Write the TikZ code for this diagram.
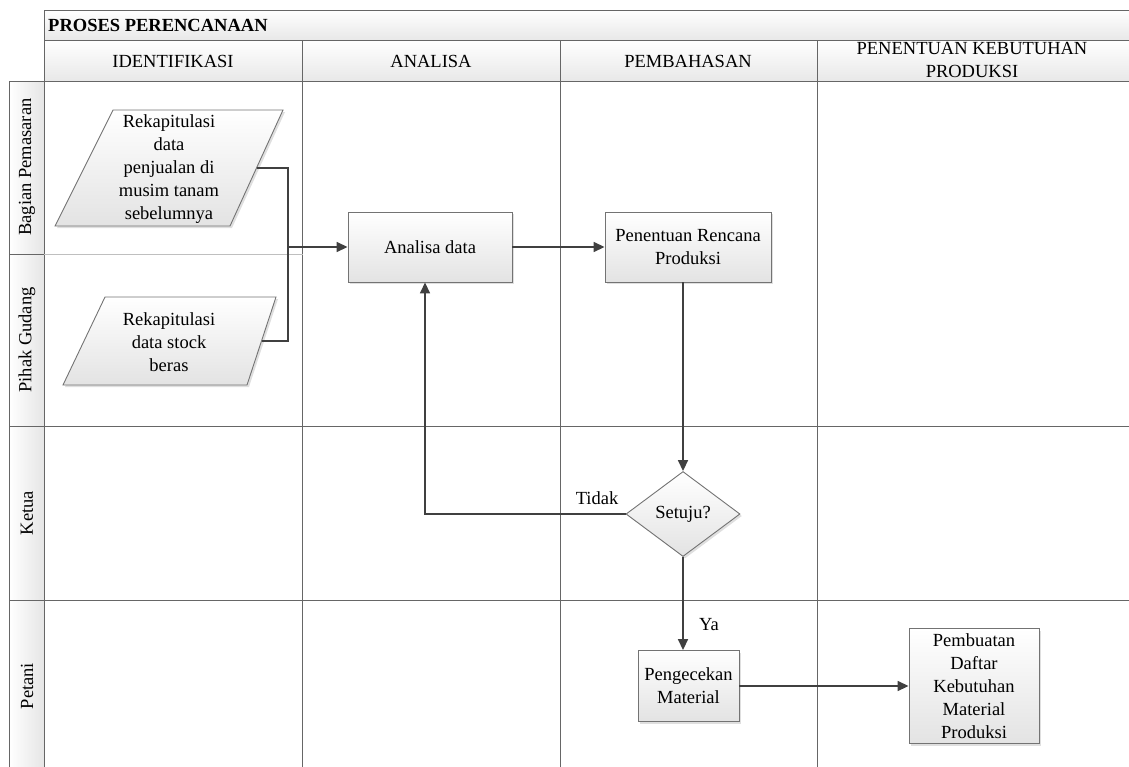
\documentclass[tikz,border=0pt]{standalone}
\usepackage{fontspec}
\setmainfont{Liberation Serif}
\usetikzlibrary{arrows.meta,shadows,shapes.geometric}
\begin{document}
\begin{tikzpicture}[x=1pt,y=-1pt,
  frame/.style={draw=black!60, line width=1pt},
  hdr/.style={frame, top color=white, bottom color=black!9},
  lanebox/.style={frame, left color=white, right color=black!10},
  proc/.style={draw=black!55, line width=0.9pt, top color=white, bottom color=black!11,
    drop shadow={shadow xshift=2pt, shadow yshift=-2pt, opacity=0.25}},
  conn/.style={draw=black!75, line width=1.6pt},
  arr/.style={conn, -{Triangle[length=11pt,width=10pt]}},
  txt/.style={font=\fontsize{18.5}{23}\selectfont, align=center, inner sep=0pt},
  lbl/.style={font=\fontsize{18.5}{23}\selectfont, inner sep=0pt},
]
\useasboundingbox (0,0) rectangle (1129,766);
% title and header
\path[hdr] (44,10) rectangle (1140,40);
\path[hdr] (44,40) rectangle (302,81);
\path[hdr] (302,40) rectangle (560,81);
\path[hdr] (560,40) rectangle (817,81);
\path[hdr] (817,40) rectangle (1140,81);
\node[anchor=west, font=\bfseries\fontsize{18.5}{22}\selectfont, inner sep=0pt] (title) at (48,25) {PROSES PERENCANAAN};
\node[txt] (h1) at (173,61) {IDENTIFIKASI};
\node[txt] (h2) at (431,61) {ANALISA};
\node[txt] (h3) at (688,61) {PEMBAHASAN};
\node[txt] (h4) at (972,60) {PENENTUAN KEBUTUHAN\\PRODUKSI};
% lane labels
\path[lanebox] (9,81) rectangle (44,254);
\path[lanebox] (9,254) rectangle (44,426);
\path[lanebox] (9,426) rectangle (44,600);
\path[lanebox] (9,600) rectangle (44,780);
\node[lbl, rotate=90] (l1) at (27,167) {Bagian Pemasaran};
\node[lbl, rotate=90] (l2) at (27,340) {Pihak Gudang};
\node[lbl, rotate=90] (l3) at (27,513) {Ketua};
\node[lbl, rotate=90] (l4) at (27,686) {Petani};
% grid
\draw[frame] (44,10) -- (44,780);
\draw[frame] (302,40) -- (302,780);
\draw[frame] (560,40) -- (560,780);
\draw[frame] (817,40) -- (817,780);
\draw[frame] (44,426) -- (1140,426);
\draw[frame] (44,600) -- (1140,600);
\draw[draw=black!25, line width=1pt] (44,254) -- (303,254);
% parallelograms
\path[proc] (113,110) -- (283,110) -- (230,226) -- (55,226) -- cycle;
\node[txt] (p1) at (169,169) {Rekapitulasi\\data\\penjualan di\\musim tanam\\sebelumnya};
\coordinate (p1r) at (257,168);
\path[proc] (105,297) -- (276,297) -- (247,385) -- (63,385) -- cycle;
\node[txt] (p2) at (169,342) {Rekapitulasi\\data stock\\beras};
\coordinate (p2r) at (262,341);
% process boxes
\node[proc, txt, minimum width=164pt, minimum height=70pt] (ana) at (430,247) {Analisa data};
\node[proc, txt, minimum width=166pt, minimum height=70pt] (pen) at (688,247) {Penentuan Rencana\\Produksi};
\node[proc, txt, diamond, aspect=1.34, minimum width=114pt, minimum height=85pt] (dia) at (683,514) {Setuju?};
\node[proc, txt, minimum width=101pt, minimum height=71pt] (pek) at (688.5,686) {Pengecekan\\Material};
\node[proc, txt, minimum width=130pt, minimum height=115pt] (pem) at (974,686) {Pembuatan\\Daftar\\Kebutuhan\\Material\\Produksi};
% connectors
\coordinate (j) at (288,247);
\draw[arr] (p1r) -| (j) -- (ana.west);
\draw[conn] (p2r) -| (j);
\draw[arr] (ana.east) -- (pen.west);
\draw[arr] (pen.south -| dia.north) -- (dia.north);
\draw[arr] (dia.west) -| ([xshift=-5pt]ana.south);
\draw[arr] (dia.south) -- (dia.south |- pek.north);
\draw[arr] (pek.east) -- (pem.west);
\node[lbl] (tidak) at (597,498) {Tidak};
\node[lbl] (ya) at (709,625) {Ya};
\end{tikzpicture}
\end{document}
